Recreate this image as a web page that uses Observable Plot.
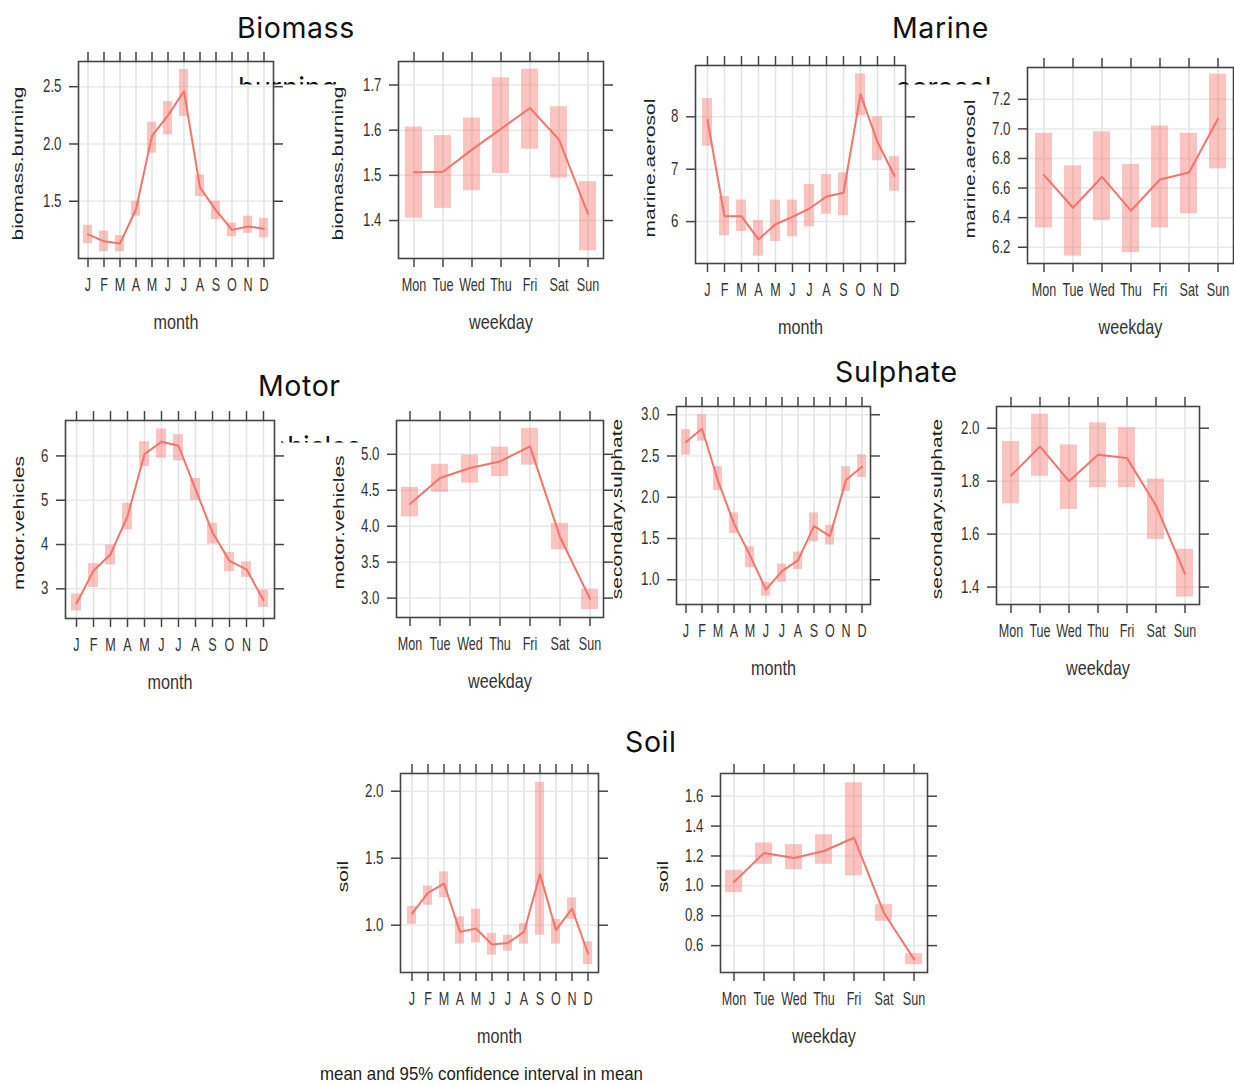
<!DOCTYPE html>
<html>
<head>
<meta charset="utf-8">
<script src="https://cdn.jsdelivr.net/npm/d3@7"></script>
<script src="https://cdn.jsdelivr.net/npm/@observablehq/plot@0.6"></script>
<style>
  html, body { margin: 0; padding: 0; background: #fff; overflow: hidden; }
  #page { position: relative; width: 1234px; height: 1084px; overflow: hidden; background: #fff; }
  .panel { position: absolute; }
  .panel svg { max-width: none !important; }
  #overlay { position: absolute; left: 0; top: 0; pointer-events: none; }
</style>
</head>
<body>
<div id="page"></div>
<script>
// Category labels
const monthLabels = ["J", "F", "M", "A", "M", "J", "J", "A", "S", "O", "N", "D"];
const weekdays = ["Mon", "Tue", "Wed", "Thu", "Fri", "Sat", "Sun"];

// Biomass burning
const biomassMonthMean  = [1.21, 1.15, 1.13, 1.43, 2.07, 2.25, 2.46, 1.62, 1.42, 1.25, 1.28, 1.26];
const biomassMonthLower = [1.13, 1.06, 1.06, 1.37, 1.92, 2.08, 2.24, 1.54, 1.34, 1.19, 1.22, 1.18];
const biomassMonthUpper = [1.29, 1.24, 1.20, 1.50, 2.19, 2.37, 2.65, 1.73, 1.50, 1.31, 1.37, 1.35];
const biomassDayMean  = [1.507, 1.508, 1.557, 1.603, 1.649, 1.579, 1.415];
const biomassDayLower = [1.405, 1.427, 1.466, 1.504, 1.558, 1.494, 1.333];
const biomassDayUpper = [1.607, 1.588, 1.627, 1.716, 1.735, 1.652, 1.486];

// Marine aerosol
const marineMonthMean  = [7.94, 6.10, 6.10, 5.66, 5.95, 6.09, 6.25, 6.48, 6.55, 8.43, 7.52, 6.87];
const marineMonthLower = [7.44, 5.73, 5.81, 5.34, 5.62, 5.71, 5.90, 6.14, 6.11, 8.02, 7.16, 6.58];
const marineMonthUpper = [8.35, 6.48, 6.41, 6.02, 6.41, 6.41, 6.71, 6.90, 6.93, 8.82, 8.00, 7.24];
const marineDayMean  = [6.687, 6.467, 6.675, 6.447, 6.658, 6.705, 7.069];
const marineDayLower = [6.33, 6.14, 6.38, 6.164, 6.33, 6.426, 6.73];
const marineDayUpper = [6.97, 6.75, 6.98, 6.76, 7.02, 6.97, 7.37];

// Motor vehicles
const motorMonthMean  = [2.67, 3.41, 3.78, 4.635, 6.04, 6.32, 6.23, 5.25, 4.27, 3.63, 3.44, 2.74];
const motorMonthLower = [2.50, 3.03, 3.54, 4.33, 5.76, 5.95, 5.89, 4.99, 4.01, 3.39, 3.26, 2.58];
const motorMonthUpper = [2.88, 3.57, 3.99, 4.93, 6.32, 6.61, 6.48, 5.49, 4.48, 3.82, 3.61, 2.97];
const motorDayMean  = [4.31, 4.67, 4.81, 4.90, 5.11, 3.85, 2.99];
const motorDayLower = [4.13, 4.47, 4.60, 4.69, 4.85, 3.67, 2.84];
const motorDayUpper = [4.54, 4.86, 4.99, 5.10, 5.36, 4.04, 3.125];

// Secondary sulphate
const sulphateMonthMean  = [2.67, 2.83, 2.20, 1.68, 1.295, 0.88, 1.105, 1.235, 1.65, 1.53, 2.21, 2.37];
const sulphateMonthLower = [2.51, 2.68, 2.08, 1.56, 1.145, 0.80, 0.97, 1.125, 1.46, 1.42, 2.07, 2.24];
const sulphateMonthUpper = [2.82, 3.00, 2.37, 1.81, 1.40, 0.97, 1.19, 1.335, 1.81, 1.66, 2.37, 2.515];
const sulphateDayMean  = [1.821, 1.931, 1.80, 1.90, 1.887, 1.708, 1.45];
const sulphateDayLower = [1.714, 1.818, 1.693, 1.775, 1.775, 1.58, 1.362];
const sulphateDayUpper = [1.950, 2.053, 1.937, 2.020, 2.002, 1.808, 1.542];

// Soil
const soilMonthMean  = [1.087, 1.241, 1.311, 0.95, 0.975, 0.856, 0.868, 0.95, 1.381, 0.963, 1.124, 0.789];
const soilMonthLower = [1.007, 1.149, 1.204, 0.858, 0.868, 0.776, 0.806, 0.858, 0.925, 0.858, 1.042, 0.706];
const soilMonthUpper = [1.14, 1.293, 1.398, 1.062, 1.119, 0.938, 0.925, 1.012, 2.065, 1.042, 1.204, 0.876];
const soilDayMean  = [1.026, 1.22, 1.186, 1.233, 1.322, 0.818, 0.509];
const soilDayLower = [0.955, 1.144, 1.108, 1.144, 1.066, 0.763, 0.473];
const soilDayUpper = [1.104, 1.287, 1.276, 1.342, 1.69, 0.874, 0.546];

// Y tick values per panel
const biomassMonthTicks = [1.5, 2.0, 2.5];
const biomassDayTicks = [1.4, 1.5, 1.6, 1.7];
const marineMonthTicks = [6, 7, 8];
const marineDayTicks = [6.2, 6.4, 6.6, 6.8, 7.0, 7.2];
const motorMonthTicks = [3, 4, 5, 6];
const motorDayTicks = [3.0, 3.5, 4.0, 4.5, 5.0];
const sulphateMonthTicks = [1.0, 1.5, 2.0, 2.5, 3.0];
const sulphateDayTicks = [1.4, 1.6, 1.8, 2.0];
const soilMonthTicks = [1.0, 1.5, 2.0];
const soilDayTicks = [0.6, 0.8, 1.0, 1.2, 1.4, 1.6];

const LINE = "#f5736a";
const INK = "#333";

// Panel layout: frame box [left, top, right, bottom] on the page, y extent, label offset
const panels = [
  {name: "biomass.burning", by: "month", mean: biomassMonthMean, lo: biomassMonthLower, hi: biomassMonthUpper, ticks: biomassMonthTicks, fmt: ".1f", domain: [1.0, 2.72], frame: [78, 61, 273, 258], ylab: 60},
  {name: "biomass.burning", by: "weekday", mean: biomassDayMean, lo: biomassDayLower, hi: biomassDayUpper, ticks: biomassDayTicks, fmt: ".1f", domain: [1.316, 1.752], frame: [398, 61, 603, 258], ylab: 60},
  {name: "marine.aerosol", by: "month", mean: marineMonthMean, lo: marineMonthLower, hi: marineMonthUpper, ticks: marineMonthTicks, fmt: "d", domain: [5.2, 8.98], frame: [695, 65, 905, 263], ylab: 45},
  {name: "marine.aerosol", by: "weekday", mean: marineDayMean, lo: marineDayLower, hi: marineDayUpper, ticks: marineDayTicks, fmt: ".1f", domain: [6.09, 7.415], frame: [1027, 67, 1233, 263], ylab: 57},
  {name: "motor.vehicles", by: "month", mean: motorMonthMean, lo: motorMonthLower, hi: motorMonthUpper, ticks: motorMonthTicks, fmt: "d", domain: [2.33, 6.80], frame: [65, 420, 274, 618], ylab: 46},
  {name: "motor.vehicles", by: "weekday", mean: motorDayMean, lo: motorDayLower, hi: motorDayUpper, ticks: motorDayTicks, fmt: ".1f", domain: [2.73, 5.47], frame: [396, 420, 603, 617], ylab: 57},
  {name: "secondary.sulphate", by: "month", mean: sulphateMonthMean, lo: sulphateMonthLower, hi: sulphateMonthUpper, ticks: sulphateMonthTicks, fmt: ".1f", domain: [0.70, 3.10], frame: [676, 406, 870, 604], ylab: 59},
  {name: "secondary.sulphate", by: "weekday", mean: sulphateDayMean, lo: sulphateDayLower, hi: sulphateDayUpper, ticks: sulphateDayTicks, fmt: ".1f", domain: [1.334, 2.082], frame: [996, 406, 1199, 604], ylab: 59},
  {name: "soil", by: "month", mean: soilMonthMean, lo: soilMonthLower, hi: soilMonthUpper, ticks: soilMonthTicks, fmt: ".1f", domain: [0.647, 2.132], frame: [400, 773, 598, 972], ylab: 57},
  {name: "soil", by: "weekday", mean: soilDayMean, lo: soilDayLower, hi: soilDayUpper, ticks: soilDayTicks, fmt: ".1f", domain: [0.42, 1.752], frame: [720, 773, 927, 972], ylab: 57}
];

const page = document.getElementById("page");

// Narrow the lettering around each text's own anchor point
function squeeze(t, sx, sy) {
  const tr = t.getAttribute("transform");
  if (tr) t.setAttribute("transform", `${tr} scale(${sx},${sy})`);
  else {
    const x = parseFloat(t.getAttribute("x")) || 0;
    t.setAttribute("transform", `translate(${x},0) scale(${sx},${sy}) translate(${-x},0)`);
  }
}

function drawPanel(p) {
  const [fl, ft, fr, fb] = p.frame;
  const mL = 80, mR = 20, mT = 20, mB = 80;
  const isMonth = p.by === "month";
  const cats = isMonth ? monthLabels.map((_, i) => i) : weekdays;
  const rows = cats.map((c, i) => ({c, mean: p.mean[i], lo: p.lo[i], hi: p.hi[i]}));
  const tickText = isMonth ? (i) => monthLabels[i] : (d) => d;
  const W = fr - fl + mL + mR, H = fb - ft + mT + mB;

  const chart = Plot.plot({
    width: W,
    height: H,
    marginLeft: mL, marginRight: mR, marginTop: mT, marginBottom: mB,
    style: {background: "transparent", overflow: "visible", maxWidth: "none", fontFamily: "'Liberation Sans', Arial, sans-serif"},
    x: {type: "band", domain: cats, paddingInner: isMonth ? 0.44 : 0.43, paddingOuter: isMonth ? 0.24 : 0.15},
    y: {domain: p.domain},
    marks: [
      Plot.gridX({stroke: "#e2e2e2", strokeOpacity: 1, strokeWidth: 1.5}),
      Plot.gridY({ticks: p.ticks, stroke: "#e8e8e8", strokeOpacity: 1, strokeWidth: 1.5}),
      Plot.barY(rows, {x: "c", y1: "lo", y2: "hi", fill: LINE, fillOpacity: 0.42}),
      Plot.line(rows, {x: "c", y: "mean", stroke: LINE, strokeWidth: 2}),
      Plot.frame({stroke: "#444", strokeWidth: 1.6}),
      Plot.axisX({anchor: "bottom", tickSize: 9, tickPadding: 11, tickFormat: tickText, fontSize: 18, stroke: "#444", strokeWidth: 1.5, fill: INK, label: null}),
      Plot.axisX({anchor: "top", tickSize: 10, tickFormat: () => "", stroke: "#444", strokeWidth: 1.5, label: null}),
      Plot.axisY({anchor: "left", ticks: p.ticks, tickSize: 9, tickPadding: 8, tickFormat: d3.format(p.fmt), fontSize: 17.5, stroke: "#444", strokeWidth: 1.5, fill: INK, label: null}),
      Plot.axisY({anchor: "right", ticks: p.ticks, tickSize: 9, tickFormat: () => "", stroke: "#444", strokeWidth: 1.5, label: null}),
      Plot.text([p.by], {frameAnchor: "bottom", dy: 64, fontSize: 19.5, fill: INK, lineAnchor: "middle"}),
      Plot.text([p.name], {frameAnchor: "left", dx: -p.ylab, dy: 3.5, rotate: -90, fontSize: 21, fill: "#222", textAnchor: "middle", lineAnchor: "middle"})
    ]
  });

  chart.querySelectorAll("text").forEach((t) => {
    const g = t.closest("g[aria-label]");
    const role = g ? g.getAttribute("aria-label") : "";
    const tr = t.getAttribute("transform") || "";
    if (tr.includes("rotate")) squeeze(t, 1, 0.7);
    else if (role.includes("y-axis tick label")) squeeze(t, 0.76, 1);
    else if (role.includes("tick label")) squeeze(t, 0.7, 1);
    else squeeze(t, 0.83, 1);
  });

  const holder = document.createElement("div");
  holder.className = "panel";
  holder.style.left = `${fl - mL}px`;
  holder.style.top = `${ft - mT}px`;
  holder.style.width = `${W}px`;
  holder.style.height = `${H}px`;
  holder.appendChild(chart);
  page.appendChild(holder);
}

panels.forEach(drawPanel);

// Source titles, partly hidden second lines, and the caption
const titles = [
  {text: "Biomass", x: 237, y: 37.5},
  {text: "Marine", x: 892, y: 37.5},
  {text: "Motor", x: 258, y: 396},
  {text: "Sulphate", x: 835, y: 381.5},
  {text: "Soil", x: 625, y: 751.5}
];
const hiddenLines = [
  {text: "burning", x: 238, y: 96.5, spacing: 0, clip: [230, 60, 140, 24.5]},
  {text: "aerosol", x: 896, y: 97, spacing: 0, clip: [885, 60, 130, 24.5]},
  {text: "vehicles", x: 257, y: 456, spacing: -0.4, clip: [281, 425, 110, 17.5]}
];
const caption = "mean and 95% confidence interval in mean";
const TITLE_FONT = "Inter, 'Noto Sans', sans-serif";

const overlay = d3.select(page).append("svg")
  .attr("id", "overlay")
  .attr("width", 1234).attr("height", 1084);

overlay.selectAll("text.title").data(titles).join("text")
  .attr("class", "title")
  .attr("x", (d) => d.x).attr("y", (d) => d.y)
  .attr("font-family", TITLE_FONT).attr("font-size", 28.5).attr("letter-spacing", 0.6).attr("fill", "#111")
  .text((d) => d.text);

const defs = overlay.append("defs");
hiddenLines.forEach((d, i) => {
  defs.append("clipPath").attr("id", `strip${i}`)
    .append("rect").attr("x", d.clip[0]).attr("y", d.clip[1]).attr("width", d.clip[2]).attr("height", d.clip[3]);
  overlay.append("text")
    .attr("x", d.x).attr("y", d.y)
    .attr("clip-path", `url(#strip${i})`)
    .attr("font-family", TITLE_FONT).attr("font-size", 27.5).attr("letter-spacing", d.spacing).attr("fill", "#111")
    .text(d.text);
});

overlay.append("text")
  .attr("x", 320).attr("y", 1080)
  .attr("textLength", 323).attr("lengthAdjust", "spacingAndGlyphs")
  .attr("font-family", "'Liberation Sans', Arial, sans-serif").attr("font-size", 19).attr("fill", "#222")
  .text(caption);
</script>
</body>
</html>
